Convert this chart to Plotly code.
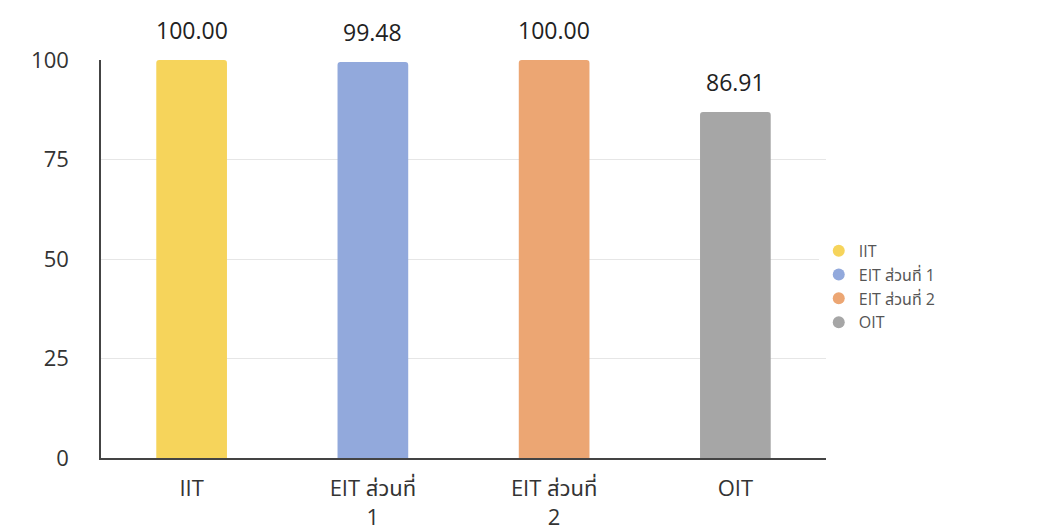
import plotly.graph_objects as go

categories = ["IIT", "EIT ส่วนที่ 1", "EIT ส่วนที่ 2", "OIT"]
tick_labels = ["IIT", "EIT ส่วนที่<br>1", "EIT ส่วนที่<br>2", "OIT"]
values = [100.00, 99.48, 100.00, 86.91]
colors = ["#F6D45B", "#92A9DC", "#ECA673", "#A6A6A6"]

FONT = "'Open Sans', 'Noto Sans', 'Noto Sans Thai', sans-serif"

fig = go.Figure()
for cat, lab, v, c in zip(categories, tick_labels, values, colors):
    fig.add_trace(go.Bar(
        x=[lab], y=[v], name=cat, marker=dict(color=c, line=dict(width=0)),
        width=0.39, showlegend=False, hoverinfo="skip",
    ))
    fig.add_annotation(x=lab, y=v, text=f"{v:.2f}", showarrow=False,
                       yanchor="bottom", yshift=12,
                       font=dict(size=23, color="#222222", family=FONT))
for cat, c in zip(categories, colors):
    fig.add_trace(go.Scatter(
        x=[None], y=[None], mode="markers", name=cat,
        marker=dict(symbol="circle", size=16, color=c),
    ))

fig.update_layout(
    width=1038, height=532,
    margin=dict(l=93, r=220, t=52, b=82),
    paper_bgcolor="white", plot_bgcolor="white",
    barmode="overlay", barcornerradius=3,
    font=dict(family=FONT, color="#333333"),
    legend=dict(x=0.99, y=0.43, xanchor="left", yanchor="middle",
                font=dict(size=16, color="#555555"), tracegroupgap=0,
                itemsizing="constant"),
    xaxis=dict(categoryorder="array", categoryarray=tick_labels,
               showline=True, linecolor="#444444", linewidth=1.5,
               showgrid=False, ticks="", tickfont=dict(size=22, color="#333333"),
               ticklabelstandoff=10, range=[-0.5, 3.5], automargin=False),
    yaxis=dict(range=[0, 100], tickvals=[0, 25, 50, 75, 100],
               showline=True, linecolor="#444444", linewidth=1.5,
               showgrid=True, gridcolor="#E6E6E6", gridwidth=1,
               ticks="", tickfont=dict(size=22, color="#333333"),
               ticklabelstandoff=26, zeroline=False, automargin=False),
)

fig.write_html("out.html")
